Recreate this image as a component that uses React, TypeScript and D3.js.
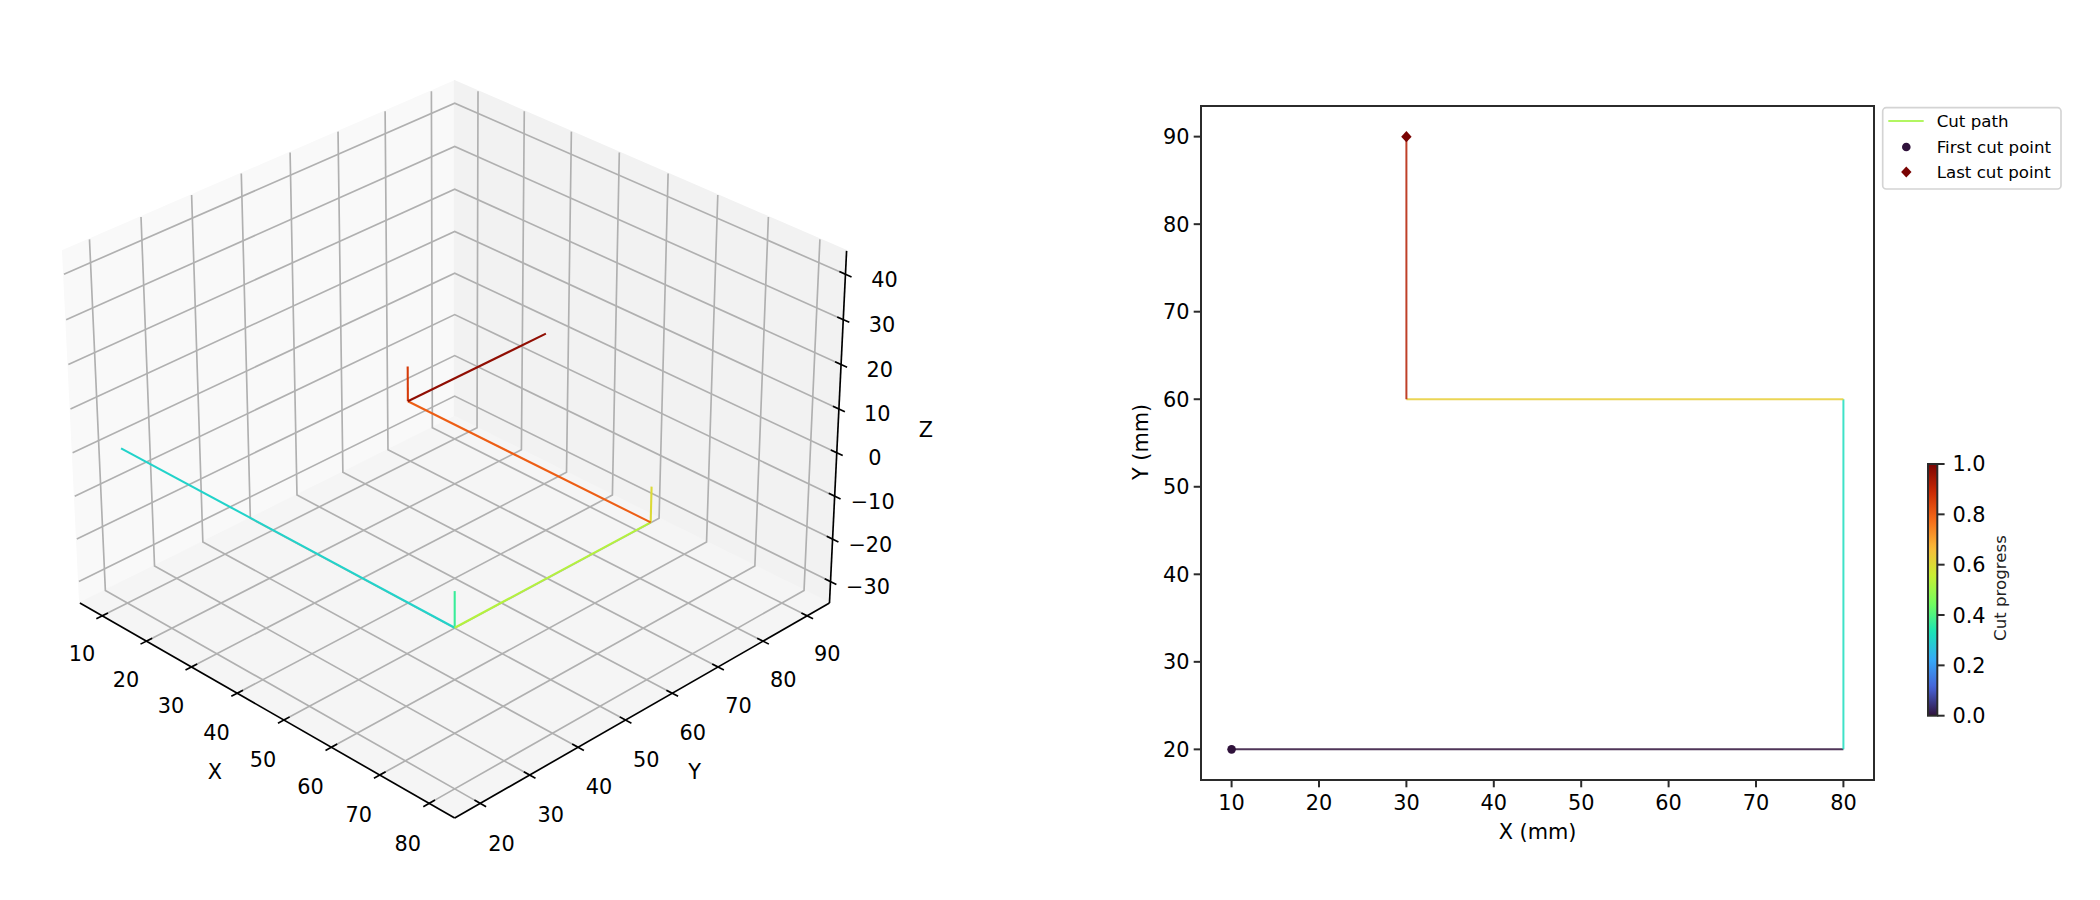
import React from "react";
import * as d3 from "d3";

// ---- data ----
const xTicks = [10, 20, 30, 40, 50, 60, 70, 80];
const yTicks3d = [20, 30, 40, 50, 60, 70, 80, 90];
const zTicks = [-30, -20, -10, 0, 10, 20, 30, 40];
const yTicks2d = [20, 30, 40, 50, 60, 70, 80, 90];
const cbTicks = [0, 0.2, 0.4, 0.6, 0.8, 1];

const seg3dStart = [[10, 20, 1], [80, 20, 1], [80, 20, 1], [80, 60, 1], [80, 60, 1], [30, 60, 1], [30, 60, 1]];
const seg3dEnd = [[80, 20, 1], [80, 20, 9], [80, 60, 1], [80, 60, 9], [30, 60, 1], [30, 60, 9], [30, 90, 1]];
const seg3dProgress = [0.3, 0.37, 0.53, 0.6, 0.8, 0.86, 0.97];

const path2dX = [[10, 80], [80, 80], [80, 30], [30, 30]];
const path2dY = [[20, 20], [20, 60], [60, 60], [60, 90]];
const path2dProgress = [0.0, 0.32, 0.625, 0.92];

const turboStops = ["#30123b", "#4662d7", "#36aaf9", "#1ae4b6", "#72fe5e", "#c8ef34", "#faba39", "#f66b19", "#cb2a04", "#7a0403"];
const legendLabels = ["Cut path", "First cut point", "Last cut point"];

const xView = [4.896, 85.104];
const yView = [14.896, 95.104];
const zView = [-35.104, 45.104];
const xLim2d = [6.5, 83.5];
const yLim2d = [16.5, 93.5];

// ---- helpers ----
const turbo = d3.scaleLinear<string>().domain(turboStops.map((_, i) => i / (turboStops.length - 1))).range(turboStops).interpolate(d3.interpolateRgb);

const FONT = "'DejaVu Sans', sans-serif";
const LW = 1.67;
const SPINE = "#2b2b2b";
const fx = d3.scaleLinear().domain(xView).range([0, 1]);
const fy = d3.scaleLinear().domain(yView).range([0, 1]);
const fz = d3.scaleLinear().domain(zView).range([0, 1]);

const BOX = 1.1906;
const BOXZ = 0.893;
const EL = (30 * Math.PI) / 180;
const AZ = (-45 * Math.PI) / 180;
const DIST = 10;
const SCALE = 4551;
const CX = 454.7;
const CY = 430.9;

function proj(a: number, b: number, c: number): [number, number] {
  const X = (a - 0.5) * BOX;
  const Y = (b - 0.5) * BOX;
  const Z = (c - 0.5) * BOXZ;
  const ex = Math.cos(AZ);
  const ey = Math.sin(AZ);
  const horiz = X * ex + Y * ey;
  const lat = -X * ey + Y * ex;
  const u = -Math.sin(EL) * horiz + Math.cos(EL) * Z;
  const w = Math.cos(EL) * horiz + Math.sin(EL) * Z;
  const s = 1 / (DIST - w);
  return [CX + SCALE * lat * s, CY - SCALE * u * s];
}
const line3 = d3.line<number[]>().x((p) => proj(p[0], p[1], p[2])[0]).y((p) => proj(p[0], p[1], p[2])[1]);

function Txt({ x, y, children, size = 20.83, anchor = "middle", rotate, fill = "#000" }: any) {
  return (
    <text x={x} y={y} dy="0.36em" fontFamily={FONT} fontSize={size} textAnchor={anchor} fill={fill}
      transform={rotate ? `rotate(${rotate} ${x} ${y})` : undefined}>{children}</text>
  );
}
const fmt = (v: number) => String(v).replace("-", "\u2212");

function Axes3D() {
  const grid = "#b0b0b0";
  const pane = (pts: number[][], col: string, k: string) => (
    <path key={k} d={line3(pts) + "Z"} fill={col} stroke={col} strokeWidth={LW} />
  );
  const TO = 0.0145, TI = 0.0145;
  return (
    <g>
      {pane([[0, 0, 0], [0, 1, 0], [0, 1, 1], [0, 0, 1]], "#f9f9f9", "px")}
      {pane([[0, 1, 0], [1, 1, 0], [1, 1, 1], [0, 1, 1]], "#f2f2f2", "py")}
      {pane([[0, 0, 0], [1, 0, 0], [1, 1, 0], [0, 1, 0]], "#f5f5f5", "pz")}
      <g fill="none" stroke={grid} strokeWidth={LW}>
        {xTicks.map((t) => <path key={"gx" + t} d={line3([[fx(t), 0, 0], [fx(t), 1, 0], [fx(t), 1, 1]])!} />)}
        {yTicks3d.map((t) => <path key={"gy" + t} d={line3([[1, fy(t), 0], [0, fy(t), 0], [0, fy(t), 1]])!} />)}
        {zTicks.map((t) => <path key={"gz" + t} d={line3([[0, 0, fz(t)], [0, 1, fz(t)], [1, 1, fz(t)]])!} />)}
      </g>
      <g fill="none" stroke="#000" strokeWidth={LW}>
        <path d={line3([[0, 0, 0], [1, 0, 0]])!} />
        <path d={line3([[1, 0, 0], [1, 1, 0]])!} />
        <path d={line3([[1, 1, 0], [1, 1, 1]])!} />
        {xTicks.map((t) => <path key={"tx" + t} d={line3([[fx(t), -TO, 0], [fx(t), TI, 0]])!} />)}
        {yTicks3d.map((t) => <path key={"ty" + t} d={line3([[1 + TO, fy(t), 0], [1 - TI, fy(t), 0]])!} />)}
        {zTicks.map((t) => <path key={"tz" + t} d={line3([[1 + TO, 1, fz(t)], [1 - TI, 1, fz(t)]])!} />)}
      </g>
      {seg3dStart.map((s, i) => {
        const e = seg3dEnd[i];
        return <path key={"seg" + i} fill="none" stroke={turbo(seg3dProgress[i])} strokeWidth={2.08}
          d={line3([[fx(s[0]), fy(s[1]), fz(s[2])], [fx(e[0]), fy(e[1]), fz(e[2])]])!} />;
      })}
      {xTicks.map((t) => { const p = proj(fx(t), -0.053, -0.08); return <Txt key={"lx" + t} x={p[0]} y={p[1]}>{fmt(t)}</Txt>; })}
      {yTicks3d.map((t) => { const p = proj(1.053, fy(t), -0.08); return <Txt key={"ly" + t} x={p[0]} y={p[1]}>{fmt(t)}</Txt>; })}
      {zTicks.map((t) => { const p = proj(1.05, 1.05, fz(t)); return <Txt key={"lz" + t} x={p[0]} y={p[1] + 5}>{fmt(t)}</Txt>; })}
      {(() => { const p = proj(0.5, -0.115, -0.115); return <Txt x={p[0]} y={p[1]}>X</Txt>; })()}
      {(() => { const p = proj(1.115, 0.5, -0.115); return <Txt x={p[0]} y={p[1]}>Y</Txt>; })()}
      {(() => { const p = proj(1.115, 1.115, 0.5); return <Txt x={p[0]} y={p[1] - 1}>Z</Txt>; })()}
    </g>
  );
}

function Axes2D() {
  const L = 1201, R = 1874, T = 106, B = 780;
  const x = d3.scaleLinear().domain(xLim2d).range([L, R]);
  const y = d3.scaleLinear().domain(yLim2d).range([B, T]);
  const ln = d3.line<number[]>().x((d) => x(d[0])).y((d) => y(d[1]));
  const TL = 7.3;
  return (
    <g>
      {path2dX.map((xs, i) => (
        <path key={i} fill="none" stroke={turbo(path2dProgress[i])} strokeWidth={2} strokeOpacity={0.85}
          d={ln([[xs[0], path2dY[i][0]], [xs[1], path2dY[i][1]]])!} />
      ))}
      <circle cx={x(10)} cy={y(20)} r={4.3} fill={turbo(0)} />
      <path d={`M${x(30)},${y(90) - 5.6}L${x(30) + 5.2},${y(90)}L${x(30)},${y(90) + 5.6}L${x(30) - 5.2},${y(90)}Z`} fill={turbo(1)} />
      <rect x={L} y={T} width={R - L} height={B - T} fill="none" stroke={SPINE} strokeWidth={2} />
      {xTicks.map((t) => (
        <g key={"x" + t}>
          <line x1={x(t)} x2={x(t)} y1={B} y2={B + TL} stroke={SPINE} strokeWidth={2} />
          <Txt x={x(t)} y={B + 23}>{fmt(t)}</Txt>
        </g>
      ))}
      {yTicks2d.map((t) => (
        <g key={"y" + t}>
          <line x1={L - TL} x2={L} y1={y(t)} y2={y(t)} stroke={SPINE} strokeWidth={2} />
          <Txt x={L - 11.5} y={y(t)} anchor="end">{fmt(t)}</Txt>
        </g>
      ))}
      <Txt x={(L + R) / 2} y={832}>X (mm)</Txt>
      <Txt x={1141} y={442} rotate={-90}>Y (mm)</Txt>
    </g>
  );
}

function Legend() {
  const L = 1882.7, R = 2061, T = 107.7, B = 189;
  const rows = [121, 147, 172];
  const mx = 1906.3;
  return (
    <g>
      <rect x={L} y={T} width={R - L} height={B - T} rx={3.5} fill="#fff" fillOpacity={0.8} stroke="#d4d4d4" strokeWidth={LW} />
      <line x1={1888.3} x2={1923.7} y1={rows[0]} y2={rows[0]} stroke={turbo(0.51)} strokeOpacity={0.85} strokeWidth={2} />
      <circle cx={mx} cy={rows[1]} r={4.3} fill={turbo(0)} />
      <path d={`M${mx},${rows[2] - 5.4}L${mx + 5.2},${rows[2]}L${mx},${rows[2] + 5.4}L${mx - 5.2},${rows[2]}Z`} fill={turbo(1)} />
      {legendLabels.map((s, i) => <Txt key={s} x={1936.7} y={rows[i]} anchor="start" size={16.67} fill="#000">{s}</Txt>)}
    </g>
  );
}

function Colorbar() {
  const L = 1928, R = 1937.3, T = 464, B = 715.7;
  const y = d3.scaleLinear().domain([0, 1]).range([B, T]);
  const stops = d3.range(0, 1.0001, 0.02);
  return (
    <g>
      <defs>
        <linearGradient id="cb" x1="0" x2="0" y1="1" y2="0">
          {stops.map((t) => <stop key={t} offset={t} stopColor={turbo(t)} />)}
        </linearGradient>
      </defs>
      <rect x={L} y={T} width={R - L} height={B - T} fill="url(#cb)" stroke={SPINE} strokeWidth={2} />
      {cbTicks.map((t) => (
        <g key={t}>
          <line x1={R} x2={R + 7.3} y1={y(t)} y2={y(t)} stroke={SPINE} strokeWidth={2} />
          <Txt x={1952.5} y={y(t)} anchor="start">{t.toFixed(1)}</Txt>
        </g>
      ))}
      <Txt x={2000} y={588} rotate={-90} size={16.67} fill="#222">Cut progress</Txt>
    </g>
  );
}

export default function App() {
  return (
    <svg width={2100} height={900} style={{ position: "absolute", left: 0, top: 0, background: "#fff" }}>
      <Axes3D />
      <Axes2D />
      <Legend />
      <Colorbar />
    </svg>
  );
}
